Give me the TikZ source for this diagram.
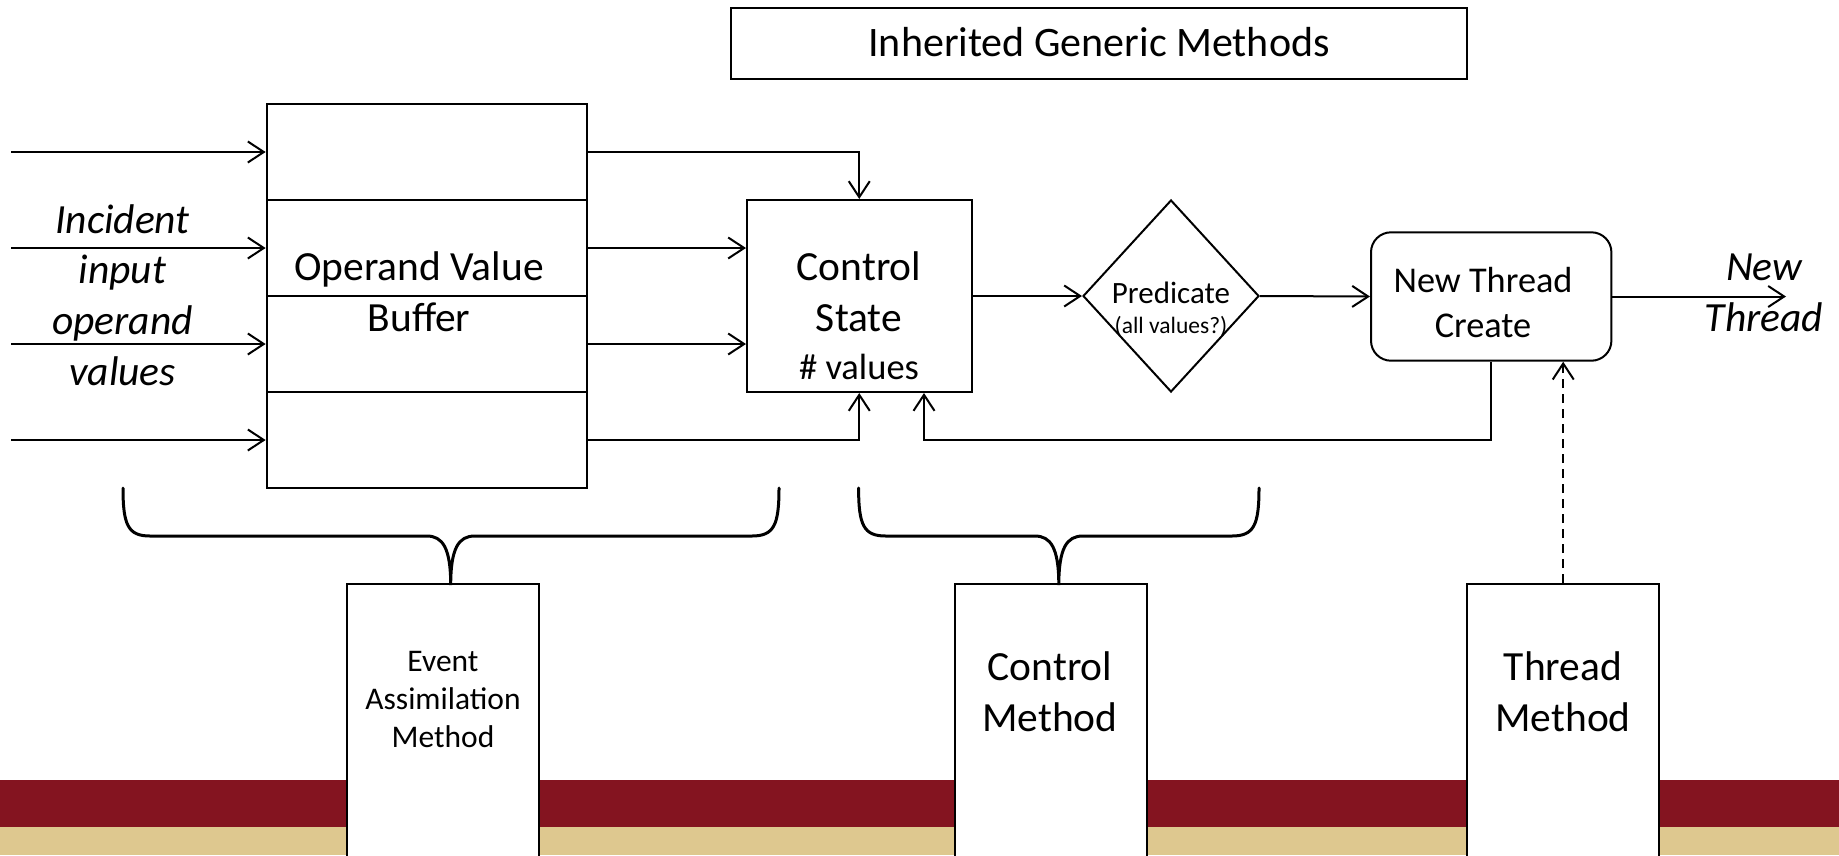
\documentclass[tikz,border=0pt]{standalone}
\usepackage{fontspec}
\setmainfont{Carlito}
\usetikzlibrary{arrows.meta,shapes.geometric}
\definecolor{bandred}{HTML}{841420}
\definecolor{bandgold}{HTML}{DEC88F}
% centred lines whose baseline is that of the first line
\newcommand\txtlines[1]{\begin{tabular}[t]{@{}c@{}}#1\end{tabular}}
\begin{document}
\begin{tikzpicture}[x=1pt,y=-1pt,
  box/.style={draw=black, line width=2pt, fill=white, inner sep=0pt, rectangle},
  arr/.style={draw=black, line width=2pt, -{Straight Barb[length=16pt,width=21pt]}},
  bracepath/.style={draw=black, line width=3pt, line cap=round},
  lbl/.style={anchor=base, inner sep=0pt, align=center},
  fbig/.style={font=\fontsize{41.5}{51}\selectfont},
]
\useasboundingbox (0,0) rectangle (1839,855);

% colour bands along the bottom
\fill[bandred] (0,780) rectangle (1839,826.7);
\fill[bandgold] (0,826.7) rectangle (1839,855);

% title box
\node[box, minimum width=736pt, minimum height=70.7pt] (ttl) at (1099,43.7) {};
\node[lbl, font=\fontsize{42}{50}\selectfont] (ttltxt) at (1099,56.7) {Inherited Generic Methods};

% operand value buffer, four slots
\foreach \i/\y in {1/152,2/248,3/344,4/440}{
  \node[box, minimum width=320.7pt, minimum height=96pt] (r\i) at (427,\y) {};
  \coordinate (in\i) at (11,\y);
  \draw[arr] (in\i) -- (r\i.west);
}
\node[lbl, fbig] (buftxt) at (419,280.7) {\txtlines{Operand Value\\Buffer}};
\node[lbl, font=\fontsize{41.5}{50.7}\selectfont\itshape] (intxt) at (122.5,233)
  {\txtlines{Incident\\input\\operand\\values}};

% control state
\node[box, minimum width=224.5pt, minimum height=192pt] (ctl) at (859.25,296) {};
\node[lbl, font=\fontsize{41.5}{51.7}\selectfont] (ctltxt) at (859,280) {\txtlines{Control\\State}};
\node[lbl, font=\fontsize{36.5}{44}\selectfont] (ctlval) at (859,379) {\# values};

% predicate
\node[draw=black, line width=2pt, diamond, inner sep=0pt, minimum width=176pt, minimum height=192pt] (pred) at (1171,296) {};
\node[lbl, font=\fontsize{31}{38}\selectfont] (predtxt) at (1171,303.5) {Predicate};
\node[lbl, font=\fontsize{23.5}{28}\selectfont] (predsub) at (1171,333.5) {(all values?)};

% thread creation
\node[box, rounded corners=20pt, minimum width=240.4pt, minimum height=128.4pt] (nt) at (1491.2,296.5) {};
\node[lbl, font=\fontsize{36.3}{44.6}\selectfont] (nttxt) at (1483,292.7) {\txtlines{New Thread\\Create}};
\coordinate (out) at (1786,296.5);
\node[lbl, font=\fontsize{41.5}{51}\selectfont\itshape] (outtxt) at (1764,280) {\txtlines{New\\Thread}};

% connectors
\draw[arr] (r1.east) -| (ctl.north);
\draw[arr] (r2.east) -- (r2.east -| ctl.west);
\draw[arr] (r3.east) -- (r3.east -| ctl.west);
\draw[arr] (r4.east) -| (ctl.south);
\draw[arr] (ctl.east) -- (pred.west);
\draw[arr] (pred.east) -- (nt.west);
\draw[arr] (nt.east) -- (out);
\coordinate (fb) at (924,440);
\draw[arr] (nt.south) |- (fb) -- (fb |- ctl.south);

% method boxes
\node[box, minimum width=192pt, minimum height=274pt] (eam) at (443,721) {};
\node[box, minimum width=192pt, minimum height=274pt] (cm) at (1050.8,721) {};
\node[box, minimum width=192pt, minimum height=274pt] (thm) at (1563.2,721) {};
\node[lbl, font=\fontsize{31.5}{37.8}\selectfont] (eamtxt) at (443,671.7) {\txtlines{Event\\Assimilation\\Method}};
\node[lbl, fbig] (cmtxt) at (1050,680) {\txtlines{Control\\Method}};
\node[lbl, fbig] (thmtxt) at (1563,680) {\txtlines{Thread\\Method}};

\draw[arr, dashed, dash pattern=on 9pt off 6pt] (thm.north) -- (thm.north |- nt.south);

% braces grouping the parts each method handles
\foreach \L/\C/\R in {123/450.7/779, 858.6/1058.8/1259}{
  \draw[bracepath] (\L,488) .. controls (\L,525) and (\L+5,536) .. (\L+27,536)
    -- (\C-24,536) .. controls (\C-8,536) and (\C,548) .. (\C,585)
    .. controls (\C,548) and (\C+8,536) .. (\C+24,536)
    -- (\R-27,536) .. controls (\R-5,536) and (\R,525) .. (\R,488);
}
\end{tikzpicture}
\end{document}
